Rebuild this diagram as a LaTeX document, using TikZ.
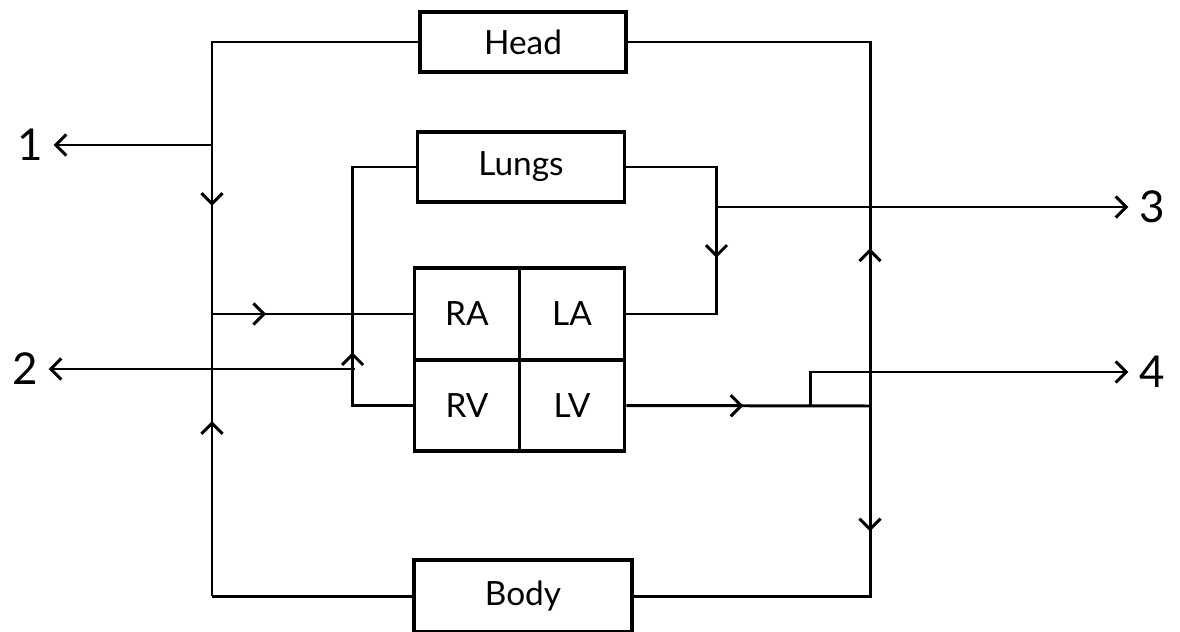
\documentclass[tikz,border=0pt]{standalone}
\usepackage{fontspec}
\setmainfont{Lato}
\usetikzlibrary{arrows.meta,decorations.markings}

\tikzset{
  wire/.style={line width=1.7pt},
  organ/.style={draw, line width=2.2pt, inner sep=0pt, font=\fontsize{19}{22}\selectfont},
  chamber/.style={organ, minimum width=2.1cm, minimum height=1.83cm},
  midarrow/.style={postaction={decorate},
    decoration={markings, mark=at position #1 with {\arrow{>}}}},
  outlabel/.style={font=\fontsize{25}{28}\selectfont, inner sep=6pt},
}

\begin{document}
\begin{tikzpicture}[x=0.02cm, y=-0.02cm, >={Straight Barb[length=6pt,width=12pt]}]
    \useasboundingbox (0,0) rectangle (1180,632);

    % ============================================================
    % ORGANS
    % ============================================================
    \node[organ, minimum width=4.12cm, minimum height=1.2cm] (head) at (523,42) {Head};
    \node[organ, minimum width=4.14cm, minimum height=1.4cm] (lungs) at (521,167) {Lungs};
    \node[organ, minimum width=4.36cm, minimum height=1.44cm] (body) at (523,596) {Body};

    % ============================================================
    % HEART (four chambers)
    % ============================================================
    \node[chamber] (ra) at (467,314) {RA};
    \node[chamber] (la) at (572,314) {LA};
    \node[chamber] (rv) at (467,405.5) {RV};
    \node[chamber] (lv) at (572,405.5) {LV};

    % ============================================================
    % OUTLETS
    % ============================================================
    \node[outlabel] (n1) at (30,145) {1};
    \node[outlabel] (n2) at (25,369) {2};
    \node[outlabel] (n3) at (1152,207) {3};
    \node[outlabel] (n4) at (1152,372) {4};

    % junctions
    \coordinate (tl) at (212,42);
    \coordinate (l1) at (212,145);
    \coordinate (l2) at (212,314);
    \coordinate (bl) at (212,596);
    \coordinate (pa) at (355,369);
    \coordinate (pv) at (715,207);
    \coordinate (rj) at (870,406);
    \coordinate (aj) at (810,406);

    % ============================================================
    % RETURN TO RIGHT ATRIUM
    % ============================================================
    \draw[wire] (head.west) -- (tl) -- (l1);
    \draw[wire, midarrow=0.36] (l1) -- (l2);
    \draw[wire, midarrow=0.62] (bl) -- (l2);
    \draw[wire] (bl) -- (body.west);
    \draw[wire, midarrow=0.27] (l2) -- (ra.west);
    \draw[wire, ->] (l1) -- (n1);

    % ============================================================
    % LUNG CIRCUIT
    % ============================================================
    \draw[wire, midarrow=0.313] (rv.west) -- ++(-60,0) |- (lungs.west);
    \draw[wire, ->] (pa) -- (n2);
    \draw[wire, midarrow=0.553] (lungs.east) -- ++(90,0) |- (la.east);
    \draw[wire, ->] (pv) -- (n3);

    % ============================================================
    % OUT OF LEFT VENTRICLE
    % ============================================================
    \draw[wire, midarrow=0.48] (lv.east) -- (rj);
    \draw[wire, midarrow=0.26] (rj) |- (head.east);
    \draw[wire, midarrow=0.294] (rj) |- (body.east);
    \draw[wire, ->] (aj) |- (n4);

\end{tikzpicture}
\end{document}
